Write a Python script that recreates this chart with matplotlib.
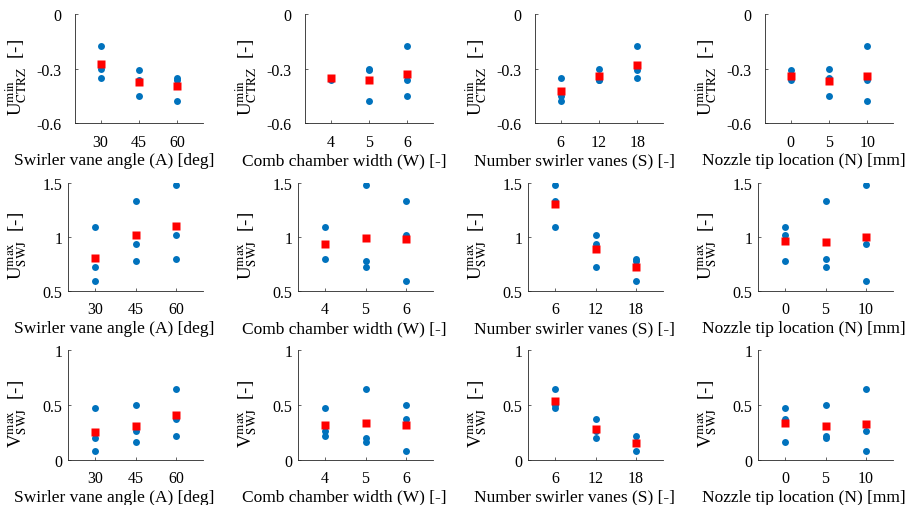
import numpy as np
import matplotlib
matplotlib.use('Agg')
import matplotlib.pyplot as plt

plt.rcParams['font.family'] = ['Liberation Serif', 'DejaVu Serif']
plt.rcParams['mathtext.fontset'] = 'stix'
plt.rcParams['axes.unicode_minus'] = False

# --- factor settings of the 9 runs (L9 array) ---
angle = [30, 30, 30, 45, 45, 45, 60, 60, 60]      # A [deg]
width = [6, 5, 4, 5, 4, 6, 4, 6, 5]               # W [-]
vanes = [18, 12, 6, 18, 12, 6, 18, 12, 6]         # S [-]
nozzle = [10, 5, 0, 0, 10, 5, 5, 0, 10]           # N [mm]

# --- responses of the 9 runs ---
u_min_ctrz = [-0.177, -0.300, -0.351, -0.305, -0.360, -0.448, -0.350, -0.360, -0.476]
u_max_swj = [0.596, 0.719, 1.090, 0.778, 0.932, 1.336, 0.796, 1.019, 1.485]
v_max_swj = [0.082, 0.201, 0.473, 0.159, 0.262, 0.500, 0.220, 0.372, 0.643]

factores = [
    (angle, [30, 45, 60], 'Swirler vane angle (A) [deg]'),
    (width, [4, 5, 6], 'Comb chamber width (W) [-]'),
    (vanes, [6, 12, 18], 'Number swirler vanes (S) [-]'),
    (nozzle, [0, 5, 10], 'Nozzle tip location (N) [mm]'),
]
respuestas = [
    (u_min_ctrz, r'U$^{\rm min}_{\rm CTRZ}$  [-]', (-0.6, 0), [-0.6, -0.3, 0], ['-0.6', '-0.3', '0']),
    (u_max_swj, r'U$^{\rm max}_{\rm SWJ}$  [-]', (0.5, 1.5), [0.5, 1, 1.5], ['0.5', '1', '1.5']),
    (v_max_swj, r'V$^{\rm max}_{\rm SWJ}$  [-]', (0, 1), [0, 0.5, 1], ['0', '0.5', '1']),
]

W, H = 907, 506
fig = plt.figure(figsize=(W / 100, H / 100), dpi=100)

# posiciones en pixeles (izq, arriba, ancho, abajo, pad etiquetas y) por fila
filas = [(75, 15, 128, 124.3, 9.5), (68, 184, 135, 292, 4), (68, 351.3, 135, 460.7, 4)]
azul = '#0072BD'

for i, (y, ylab, ylim, yt, ytl) in enumerate(respuestas):
    x0, top, ancho, bot, ypad = filas[i]
    alto = bot - top
    y = np.array(y)
    for j, (x, niveles, xlab) in enumerate(factores):
        x = np.array(x)
        izq = x0 + 230 * j
        ax = fig.add_axes([izq / W, (H - bot) / H, ancho / W, alto / H])
        ax.plot(x, y, 'o', color=azul, ms=5, mec='none')
        medias = [y[x == n].mean() for n in niveles]
        ax.plot(niveles, medias, 's', color='#FF0000', ms=6, mec='none')
        paso = niveles[1] - niveles[0]
        ax.set_xlim(niveles[0] - 2 * paso / 3, niveles[-1] + 2 * paso / 3)
        ax.set_xticks(niveles)
        ax.set_ylim(ylim)
        ax.set_yticks(yt)
        ax.set_yticklabels(ytl)
        ax.set_xlabel(xlab, fontsize=12.5)
        ax.set_ylabel(ylab, fontsize=13.5)
        # etiquetas corridas como en la figura original
        ax.xaxis.set_label_coords((114 + 230 * j - izq) / ancho, -29 / alto)
        ax.yaxis.set_label_coords((29 + 230 * j - izq) / ancho, 0.43)
        ax.spines['top'].set_visible(False)
        ax.spines['right'].set_visible(False)
        for s in ['left', 'bottom']:
            ax.spines[s].set_linewidth(0.6)
            ax.spines[s].set_color('#262626')
        ax.tick_params(direction='in', length=2, width=0.5, labelsize=11.5,
                       colors='#262626', labelcolor='black')
        ax.tick_params(axis='x', pad=7.5)
        ax.tick_params(axis='y', pad=ypad)

fig.savefig('out.png', dpi=100)
